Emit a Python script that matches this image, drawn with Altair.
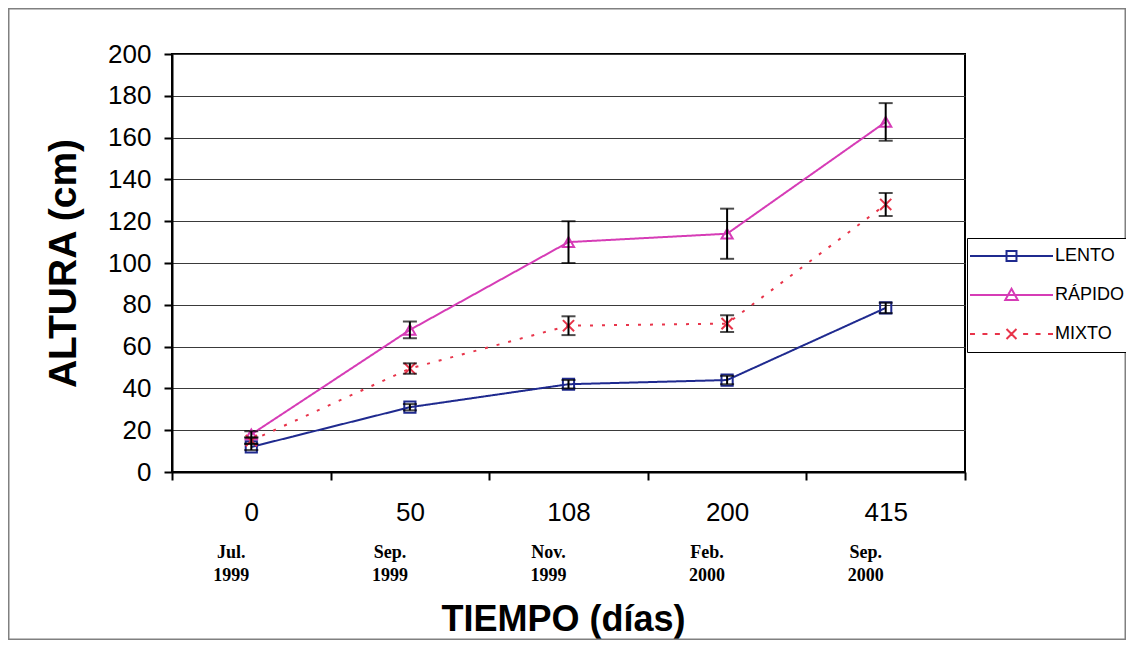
import altair as alt
import pandas as pd

# ---- data ----
dias = ["0", "50", "108", "200", "415"]
meses = ["Jul.", "Sep.", "Nov.", "Feb.", "Sep."]
anios = ["1999", "1999", "1999", "2000", "2000"]
series = ["LENTO", "RÁPIDO", "MIXTO"]
lento = [12, 31, 42, 44, 78.5]
lento_err = [1.5, 1.5, 2, 2, 2.5]
rapido = [18, 68, 110, 114, 167.5]
rapido_err = [1.5, 4, 10, 12, 9]
mixto = [15, 49.5, 70, 71, 128]
mixto_err = [1.5, 2.5, 4.5, 4, 5.5]
y_ticks = list(range(0, 201, 20))

colores = ["#1f2a8f", "#d63cb6", "#e8344a"]
dashes = [[1, 0], [1, 0], [3, 9]]
markers = ["square", "triangle-up", "M-1,-1L1,1M-1,1L1,-1"]
legend_paths = [
    "M-1,0H1M-0.12,-0.12H0.12V0.12H-0.12Z",
    "M-1,0H1M0,-0.15L0.15,0.12H-0.15Z",
    "M-1,0H-0.88M-0.7,0H-0.58M-0.4,0H-0.28M0.28,0H0.4M0.58,0H0.7M0.88,0H1"
    "M-0.12,-0.12L0.12,0.12M-0.12,0.12L0.12,-0.12",
]

rows = []
for s, vals, errs in zip(series, [lento, rapido, mixto], [lento_err, rapido_err, mixto_err]):
    for i, (d, v, e) in enumerate(zip(dias, vals, errs)):
        rows.append({"dia": d, "idx": i, "serie": s, "altura": v, "lo": v - e, "hi": v + e})
df = pd.DataFrame(rows)

# ---- layout (pixels) ----
W, H = 793, 418
PL, PT = 164, 46
SVG_W, SVG_H = 1118, 632

xscale = alt.Scale(type="band", domain=dias, paddingInner=0, paddingOuter=0)
yscale = alt.Scale(domain=[0, 200], nice=False, zero=True)
cscale = alt.Scale(domain=series, range=colores)
dscale = alt.Scale(domain=series, range=dashes)
shape_scale = alt.Scale(domain=series, range=markers)
legend_shape_scale = alt.Scale(domain=series, range=legend_paths)

label_expr = ""
for d, m, a in zip(dias, meses, anios):
    label_expr += f"datum.value == '{d}' ? ['{m}', '{a}'] : "
label_expr += "''"

axis_num = alt.Axis(orient="bottom", labelAngle=0, labelFont="Liberation Sans", labelFontSize=26,
                    labelColor="black", labelPadding=19, labelBaseline="top", tickSize=8, tickWidth=2,
                    tickColor="black", tickBand="extent", domainColor="black", domainWidth=2,
                    grid=False, title=None)
axis_fecha = alt.Axis(orient="bottom", labelExpr=label_expr, labelAngle=0, labelFont="Liberation Serif",
                      labelFontWeight="bold", labelFontSize=18, labelLineHeight=23, labelOffset=-20,
                      labelPadding=71, labelBaseline="top", labelColor="black", labelOverlap=False,
                      ticks=False, domain=False, grid=False,
                      title="TIEMPO (días)", titleFont="Liberation Sans", titleFontSize=36,
                      titleFontWeight="bold", titleColor="black", titleX=391, titleY=130,
                      titleBaseline="top", titleAlign="center")
axis_y = alt.Axis(values=y_ticks, labelFont="Liberation Sans", labelFontSize=26, labelColor="black",
                  labelPadding=13, tickSize=8, tickWidth=2, tickColor="black", domainColor="black",
                  domainWidth=2, gridColor="#3a3a3a", gridWidth=1.2,
                  title="ALTURA (cm)", titleFont="Liberation Sans", titleFontSize=39,
                  titleFontWeight="bold", titleColor="black", titleX=-109, titleBaseline="middle",
                  titleAngle=270)

def X(axis=None):
    return alt.X("dia:N", sort=dias, scale=xscale, axis=axis)

def Y(field):
    return alt.Y(field, type="quantitative", scale=yscale, axis=axis_y)

base = alt.Chart(df)

frame = alt.Chart(pd.DataFrame({"k": [0]})).mark_rect(
    fill="white", fillOpacity=0, stroke="#808080", strokeWidth=1.5
).encode(
    x=alt.value(-PL + 0.75), x2=alt.value(SVG_W - PL - 0.75),
    y=alt.value(-PT + 0.75), y2=alt.value(SVG_H - PT - 0.75),
)

lines = base.mark_line(strokeWidth=2).encode(
    x=X(axis_num), y=Y("altura"),
    color=alt.Color("serie:N", scale=cscale, legend=None),
    strokeDash=alt.StrokeDash("serie:N", scale=dscale, legend=None),
    order=alt.Order("idx:Q"),
)

points = base.mark_point(filled=False, strokeWidth=2, size=125, opacity=1).encode(
    x=X(axis_fecha), y=Y("altura"),
    color=alt.Color("serie:N", scale=cscale, legend=None),
    shape=alt.Shape("serie:N", scale=shape_scale, legend=None),
)

err_rule = base.mark_rule(color="black", strokeWidth=2).encode(x=X(), y=Y("lo"), y2="hi:Q")
err_lo = base.mark_tick(color="black", thickness=2, size=14).encode(x=X(), y=Y("lo"))
err_hi = base.mark_tick(color="black", thickness=2, size=14).encode(x=X(), y=Y("hi"))

leg = alt.Legend(title=None, orient="none", legendX=795, legendY=184, direction="vertical",
                 symbolSize=6889, symbolStrokeWidth=2, symbolOpacity=1, clipHeight=32,
                 rowPadding=7, padding=2, symbolOffset=0, labelOffset=1,
                 labelFont="Liberation Sans", labelFontSize=18, labelColor="black", labelLimit=300,
                 strokeColor="black", fillColor="white")

carrier = base.transform_filter("datum.idx < 0").mark_point(filled=False).encode(
    x=X(), y=Y("altura"),
    color=alt.Color("serie:N", scale=cscale, legend=leg),
    shape=alt.Shape("serie:N", scale=legend_shape_scale, legend=leg),
)

chart = alt.layer(frame, lines, points, err_rule, err_lo, err_hi, carrier).resolve_axis(
    x="independent"
).resolve_scale(shape="independent", color="independent").properties(
    width=W, height=H,
    padding={"left": PL, "top": PT, "right": SVG_W - PL - W, "bottom": SVG_H - PT - H},
    autosize=alt.AutoSizeParams(type="none"),
    background="white",
).configure_view(stroke="black", strokeWidth=2)

chart.save("out.html", embed_options={"renderer": "svg", "actions": False})
